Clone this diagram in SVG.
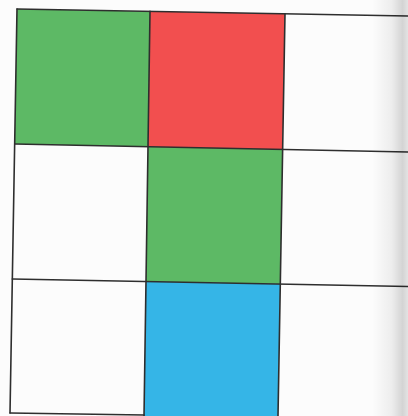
<svg xmlns="http://www.w3.org/2000/svg" width="408" height="416" viewBox="0 0 408 416">
<style>
.cell{stroke:none}
.g{fill:#5db965}
.r{fill:#f24f4f}
.b{fill:#35b5e7}
.w{fill:#fcfcfc}
.ln{stroke:#2e2e2e;stroke-width:1.6;fill:none;stroke-linecap:round}
</style>
<defs>
<linearGradient id="shade" x1="0" y1="0" x2="1" y2="0">
<stop offset="0" stop-color="#000" stop-opacity="0"/>
<stop offset="0.55" stop-color="#000" stop-opacity="0.06"/>
<stop offset="0.85" stop-color="#000" stop-opacity="0.16"/>
<stop offset="1" stop-color="#000" stop-opacity="0.10"/>
</linearGradient>
</defs>
<rect width="408" height="416" fill="#fcfcfc"/>
<g id="cell-r1c1"><polygon class="cell g" points="17,9 150,11.4 148,146.7 14.7,144"/></g>
<g id="cell-r1c2"><polygon class="cell r" points="150,11.4 285,13.8 282.6,149.4 148,146.7"/></g>
<g id="cell-r1c3"><polygon class="cell w" points="285,13.8 408,16 408,152 282.6,149.4"/></g>
<g id="cell-r2c1"><polygon class="cell w" points="14.7,144 148,146.7 146,281.5 12.3,279"/></g>
<g id="cell-r2c2"><polygon class="cell g" points="148,146.7 282.6,149.4 280.3,284 146,281.5"/></g>
<g id="cell-r2c3"><polygon class="cell w" points="282.6,149.4 408,152 408,286.5 280.3,284"/></g>
<g id="cell-r3c1"><polygon class="cell w" points="12.3,279 146,281.5 144,415 10,413"/></g>
<g id="cell-r3c2"><polygon class="cell b" points="146,281.5 280.3,284 278,416 144,416"/></g>
<g id="cell-r3c3"><polygon class="cell w" points="280.3,284 408,286.5 408,416 278,416"/></g>
<g id="connectors">
<line class="ln" x1="17" y1="9" x2="408" y2="16"/>
<line class="ln" x1="14.7" y1="144" x2="408" y2="152"/>
<line class="ln" x1="12.3" y1="279" x2="408" y2="286.5"/>
<line class="ln" x1="10" y1="413" x2="144" y2="415"/>
<line class="ln" x1="17" y1="9" x2="10" y2="413"/>
<line class="ln" x1="150" y1="11.4" x2="144" y2="416"/>
<line class="ln" x1="285" y1="13.8" x2="278" y2="416"/>
</g>
<rect x="372" y="0" width="36" height="416" fill="url(#shade)"/>
</svg>
